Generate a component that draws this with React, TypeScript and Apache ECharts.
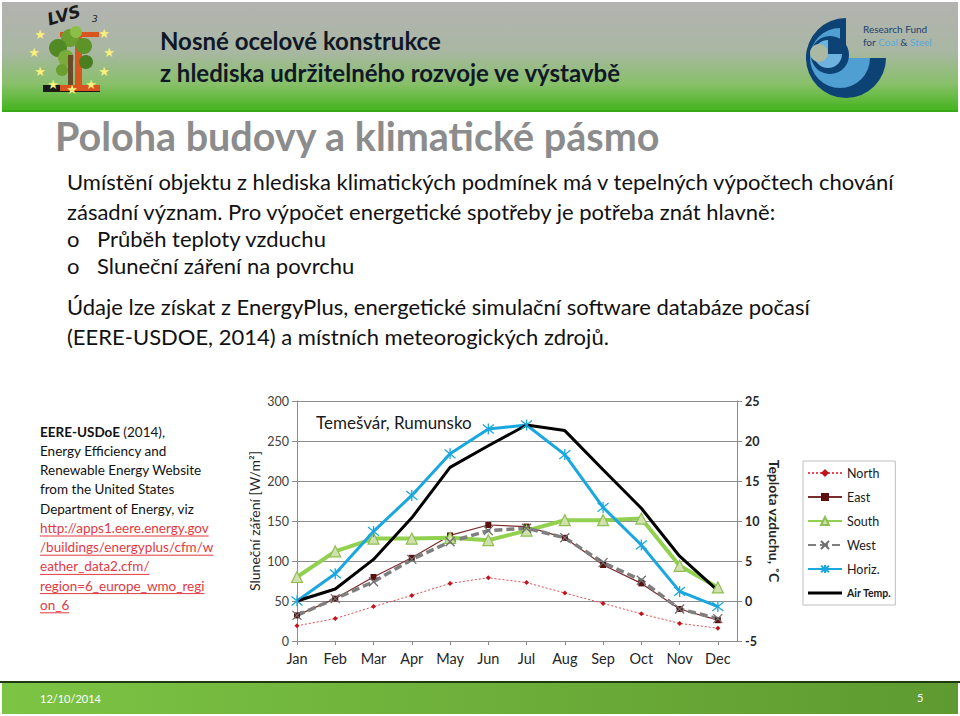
import React, { useEffect, useRef } from 'react';
import * as echarts from 'echarts';

const months = ['Jan', 'Feb', 'Mar', 'Apr', 'May', 'Jun', 'Jul', 'Aug', 'Sep', 'Oct', 'Nov', 'Dec'];
const north = [19, 28, 43, 57, 72, 79, 73, 60, 47, 34, 22, 16];
const east = [32, 53, 80, 104, 132, 145, 143, 129, 95, 72, 40, 26];
const south = [80, 112, 128, 128, 129, 126, 138, 151, 151, 153, 94, 67];
const west = [32, 53, 74, 102, 124, 138, 141, 129, 98, 76, 40, 28];
const horiz = [50, 84, 137, 182, 234, 265, 270, 233, 167, 120, 62, 43];
const airTemp = [0, 1.5, 5.2, 10.4, 16.7, 19.4, 22.0, 21.3, 16.4, 11.6, 5.6, 1.3];

const headerLines = ['Nosné ocelové konstrukce', 'z hlediska udržitelného rozvoje ve výstavbě'];
const slideTitle = 'Poloha budovy a klimatické pásmo';
const bodyLines = [
  'Umístění objektu z hlediska klimatických podmínek má v tepelných výpočtech chování',
  'zásadní význam. Pro výpočet energetické spotřeby je potřeba znát hlavně:',
];
const bullets = ['Průběh teploty vzduchu', 'Sluneční záření na povrchu'];
const bodyLines2 = [
  'Údaje lze získat z EnergyPlus, energetické simulační software databáze počasí',
  '(EERE-USDOE, 2014) a místních meteorogických zdrojů.',
];
const sourceLines = [
  'Energy Efficiency and',
  'Renewable Energy Website',
  'from the United States',
  'Department of Energy, viz',
];
const linkLines = [
  'http://apps1.eere.energy.gov',
  '/buildings/energyplus/cfm/w',
  'eather_data2.cfm/',
  'region=6_europe_wmo_regi',
  'on_6',
];

const FONT = 'Lato, "Open Sans", sans-serif';

function measure(text: string, font: string): number {
  const c = document.createElement('canvas').getContext('2d');
  if (!c) return text.length * 7;
  c.font = font;
  return c.measureText(text).width;
}

export default function App() {
  const ref = useRef<HTMLDivElement>(null);
  useEffect(() => {
    const chart = echarts.init(ref.current!, null, { renderer: 'svg' });
    const pair = (arr: number[]) => arr.map((v, i) => [i, v]);

    const graphics: any[] = [];
    // header
    graphics.push({
      type: 'rect', shape: { x: 2, y: 2, width: 956, height: 109 }, z: 0,
      style: {
        fill: new echarts.graphic.LinearGradient(0, 0, 0, 1, [
          { offset: 0, color: '#b3b3b1' },
          { offset: 0.45, color: '#a9b7a3' },
          { offset: 0.75, color: '#88c06a' },
          { offset: 1, color: '#44b41c' },
        ]),
      },
    });
    graphics.push({ type: 'line', shape: { x1: 2, y1: 111, x2: 958, y2: 111 }, style: { stroke: '#3aa818', lineWidth: 2 } });
    headerLines.forEach((t, i) => {
      graphics.push({
        type: 'text', x: 160, y: 40 + i * 32,
        style: { text: t, font: `bold 24px ${FONT}`, fill: '#101828', verticalAlign: 'middle' },
      });
    });
    // LVS logo
    graphics.push({ type: 'rect', shape: { x: 43, y: 85, width: 57, height: 7 }, style: { fill: '#1a1a1a' } });
    graphics.push({ type: 'rect', shape: { x: 60, y: 32, width: 39, height: 5 }, style: { fill: '#d9541e' } });
    graphics.push({ type: 'rect', shape: { x: 75, y: 36, width: 7, height: 50 }, style: { fill: '#d9541e' } });
    graphics.push({ type: 'rect', shape: { x: 60, y: 85, width: 40, height: 6 }, style: { fill: '#d9541e' } });
    [[70, 38, 9, '#6a9e2e'], [58, 48, 9, '#4f8a24'], [84, 46, 8, '#5c9428'], [66, 58, 8, '#7aac3a'], [86, 62, 7, '#4a7f20'], [62, 70, 6, '#6a9e2e'], [76, 32, 6, '#8bbf48']].forEach((c: any) => {
      graphics.push({ type: 'circle', shape: { cx: c[0], cy: c[1], r: c[2] }, style: { fill: c[3] } });
    });
    graphics.push({ type: 'rect', shape: { x: 68, y: 55, width: 5, height: 30 }, style: { fill: '#6b4a2a' } });
    [[40, 34], [104, 33], [34, 52], [109, 52], [40, 71], [104, 71], [53, 84], [91, 84], [72, 89]].forEach((p) => {
      graphics.push({
        type: 'text', x: p[0], y: p[1],
        style: { text: '★', font: '13px "DejaVu Sans"', fill: '#f8f07a', align: 'center', verticalAlign: 'middle' },
      });
    });
    graphics.push({
      type: 'text', x: 50, y: 28, rotation: 0.28,
      style: { text: 'LVS', font: 'bold italic 17px "DejaVu Sans"', fill: '#1a1a1a', verticalAlign: 'bottom' },
    });
    graphics.push({ type: 'text', x: 92, y: 14, style: { text: '3', font: 'italic 9px "DejaVu Sans"', fill: '#1a1a1a' } });
    // RFCS logo
    graphics.push({ type: 'sector', shape: { cx: 846, cy: 58, r0: 0, r: 40, startAngle: 0, endAngle: Math.PI * 1.5, clockwise: true }, style: { fill: '#0d4275' } });
    graphics.push({ type: 'sector', shape: { cx: 833, cy: 57, r0: 0, r: 27, startAngle: -Math.PI * 0.5, endAngle: Math.PI * 0.95, clockwise: false }, style: { fill: '#0d4275' } });
    graphics.push({ type: 'sector', shape: { cx: 840, cy: 58, r0: 0, r: 30, startAngle: 0, endAngle: Math.PI * 1.5, clockwise: true }, style: { fill: '#4f9fd3' } });
    graphics.push({ type: 'circle', shape: { cx: 830, cy: 55, r: 19 }, style: { fill: '#0d4275' } });
    graphics.push({ type: 'sector', shape: { cx: 828, cy: 54, r0: 0, r: 14, startAngle: 0, endAngle: Math.PI * 1.5, clockwise: true }, style: { fill: '#6eb2de' } });
    graphics.push({ type: 'circle', shape: { cx: 819, cy: 53, r: 9 }, style: { fill: '#a9b9a3' } });
    graphics.push({
      type: 'text', x: 863, y: 29,
      style: { text: 'Research Fund', font: `10px ${FONT}`, fill: '#1d3f6e', verticalAlign: 'middle' },
    });
    graphics.push({
      type: 'text', x: 863, y: 42,
      style: {
        text: 'for {c|Coal} & {c|Steel}', font: `10px ${FONT}`, fill: '#1d3f6e', verticalAlign: 'middle',
        rich: { c: { fill: '#5aa8dc', font: `10px ${FONT}` } },
      },
    });
    // slide title
    graphics.push({
      type: 'text', x: 55, y: 135,
      style: { text: slideTitle, font: `bold 39.5px ${FONT}`, fill: '#8c8c8c', verticalAlign: 'middle' },
    });
    const bodyFont = `22px ${FONT}`;
    bodyLines.forEach((t, i) => {
      graphics.push({ type: 'text', x: 67, y: 181 + i * 30, style: { text: t, font: bodyFont, fill: '#111111', verticalAlign: 'middle' } });
    });
    bullets.forEach((t, i) => {
      graphics.push({ type: 'text', x: 67, y: 238 + i * 27, style: { text: 'o', font: bodyFont, fill: '#111111', verticalAlign: 'middle' } });
      graphics.push({ type: 'text', x: 97, y: 238 + i * 27, style: { text: t, font: bodyFont, fill: '#111111', verticalAlign: 'middle' } });
    });
    bodyLines2.forEach((t, i) => {
      graphics.push({ type: 'text', x: 67, y: 306 + i * 30, style: { text: t, font: bodyFont, fill: '#111111', verticalAlign: 'middle' } });
    });
    // source text
    const srcFont = `13.5px ${FONT}`;
    graphics.push({
      type: 'text', x: 40, y: 432,
      style: {
        text: '{b|EERE-USDoE} (2014),', font: srcFont, fill: '#111111', verticalAlign: 'middle',
        rich: { b: { font: `bold 13.5px ${FONT}`, fill: '#111111' } },
      },
    });
    sourceLines.forEach((t, i) => {
      graphics.push({ type: 'text', x: 40, y: 451 + i * 19.2, style: { text: t, font: srcFont, fill: '#111111', verticalAlign: 'middle' } });
    });
    linkLines.forEach((t, i) => {
      const y = 528 + i * 19.2;
      graphics.push({ type: 'text', x: 40, y, style: { text: t, font: srcFont, fill: '#e23a3f', verticalAlign: 'middle' } });
      const w = measure(t, `13.5px Lato`);
      graphics.push({ type: 'line', shape: { x1: 40, y1: y + 8, x2: 40 + w, y2: y + 8 }, style: { stroke: '#e23a3f', lineWidth: 1 } });
    });
    // chart title
    graphics.push({
      type: 'text', x: 316, y: 422,
      style: { text: 'Temešvár, Rumunsko', font: `17px ${FONT}`, fill: '#1a1a1a', verticalAlign: 'middle' },
    });
    // footer
    graphics.push({ type: 'line', shape: { x1: 0, y1: 682, x2: 960, y2: 682 }, style: { stroke: '#1e3a10', lineWidth: 2 } });
    graphics.push({
      type: 'rect', shape: { x: 2, y: 683, width: 956, height: 31 },
      style: {
        fill: new echarts.graphic.LinearGradient(0, 0, 1, 0, [
          { offset: 0, color: '#7cc444' },
          { offset: 1, color: '#5e9a30' },
        ]),
      },
    });
    graphics.push({ type: 'text', x: 40, y: 698, style: { text: '12/10/2014', font: `11px ${FONT}`, fill: '#ffffff', verticalAlign: 'middle' } });
    graphics.push({ type: 'text', x: 917, y: 697, style: { text: '5', font: `11px ${FONT}`, fill: '#ffffff', verticalAlign: 'middle' } });

    const option: any = {
      animation: false,
      backgroundColor: '#ffffff',
      textStyle: { fontFamily: FONT },
      grid: { left: 297, top: 401, width: 440, height: 240, containLabel: false },
      legend: {
        orient: 'vertical', left: 803, top: 461,
        borderColor: '#bfbfbf', borderWidth: 1, padding: [5, 4, 5, 4],
        itemWidth: 34, itemHeight: 10, itemGap: 10,
        textStyle: { fontSize: 12.5, color: '#1a1a1a', lineHeight: 14, rich: { b: { fontWeight: 'bold', fontSize: 10.5, color: '#1a1a1a' } } },
        formatter: (n: string) => (n === 'Air Temp.' ? `{b|${n}}` : n),
        data: [
          'North', 'East', 'South', 'West', 'Horiz.',
          { name: 'Air Temp.', icon: 'path://M0,0L36,0L36,3L0,3Z', itemStyle: { color: '#000000' } },
        ],
      },
      xAxis: {
        type: 'value', min: 0, max: 11.5, interval: 1,
        axisLine: { show: true, lineStyle: { color: '#8c8c8c' } },
        axisTick: { show: true, length: 4, lineStyle: { color: '#8c8c8c' } },
        splitLine: { show: false },
        axisLabel: {
          fontSize: 14.5, color: '#262626', margin: 10, showMaxLabel: false,
          formatter: (v: number) => (Number.isInteger(v) && months[v] ? months[v] : ''),
        },
      },
      yAxis: [
        {
          type: 'value', min: 0, max: 300, interval: 50, position: 'left',
          name: 'Sluneční záření [W/m²]', nameLocation: 'middle', nameGap: 36,
          nameTextStyle: { fontSize: 14, color: '#262626' },
          axisLine: { show: true, lineStyle: { color: '#8c8c8c' } },
          axisTick: { show: true, length: 5, lineStyle: { color: '#8c8c8c' } },
          axisLabel: { fontSize: 12.5, color: '#404040', margin: 8 },
          splitLine: { show: true, lineStyle: { color: '#8c8c8c', width: 1 } },
        },
        {
          type: 'value', min: -5, max: 25, interval: 5, position: 'right',
          name: 'Teplota vzduchu, ˚C', nameLocation: 'middle', nameGap: 30, nameRotate: -90,
          nameTextStyle: { fontSize: 14, fontWeight: 'bold', color: '#262626' },
          axisLine: { show: true, lineStyle: { color: '#8c8c8c' } },
          axisTick: { show: true, length: 5, lineStyle: { color: '#8c8c8c' } },
          axisLabel: { fontSize: 12.5, fontWeight: 'bold', color: '#262626', margin: 8 },
          splitLine: { show: false },
        },
      ],
      series: [
        {
          name: 'North', type: 'line', data: pair(north), symbol: 'diamond', symbolSize: 5,
          lineStyle: { color: '#e04a50', width: 1, type: [2, 2] },
          itemStyle: { color: '#c0141c' },
        },
        {
          name: 'East', type: 'line', data: pair(east), symbol: 'rect', symbolSize: 6,
          lineStyle: { color: '#7b2c2c', width: 1.2 },
          itemStyle: { color: '#5c1010' },
        },
        {
          name: 'South', type: 'line', data: pair(south), symbol: 'triangle', symbolSize: 11,
          lineStyle: { color: '#92d050', width: 4 },
          itemStyle: { color: '#cfe0ad', borderColor: '#8fbf50', borderWidth: 1.2 },
        },
        {
          name: 'West', type: 'line', data: pair(west), symbol: 'path://M0,0L10,10M10,0L0,10', symbolSize: 9,
          lineStyle: { color: '#7f7f7f', width: 3.5, type: [8, 4] },
          itemStyle: { color: '#7f7f7f', borderColor: '#6f6f6f', borderWidth: 1.3 },
        },
        {
          name: 'Horiz.', type: 'line', data: pair(horiz), symbol: 'path://M1,1L9,9M9,1L1,9M5,0L5,10', symbolSize: 11,
          lineStyle: { color: '#1aa7e0', width: 3 },
          itemStyle: { color: '#1aa7e0', borderColor: '#1aa7e0', borderWidth: 1.3 },
        },
        {
          name: 'Air Temp.', type: 'line', yAxisIndex: 1, data: pair(airTemp), symbol: 'none', showSymbol: false,
          lineStyle: { color: '#000000', width: 3 },
          itemStyle: { color: '#000000' },
        },
      ],
      graphic: graphics,
    };
    chart.setOption(option);
    return () => chart.dispose();
  }, []);
  return <div ref={ref} style={{ position: 'fixed', left: 0, top: 0, width: 960, height: 716 }} />;
}
